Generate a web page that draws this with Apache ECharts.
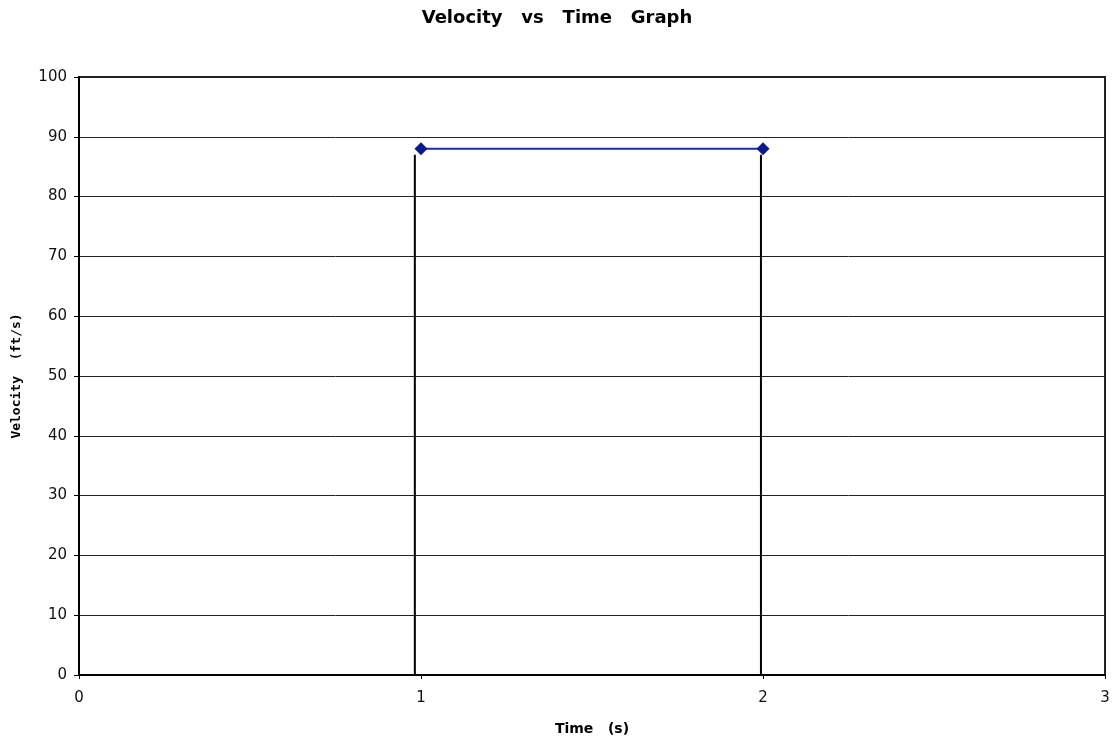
<!DOCTYPE html>
<html>
<head>
<meta charset="utf-8">
<script src="https://cdn.jsdelivr.net/npm/echarts@6/dist/echarts.min.js"></script>
<style>
  html, body { margin: 0; padding: 0; background: #fff; }
  #chart { width: 1114px; height: 744px; }
</style>
</head>
<body>
<div id="chart"></div>
<script>
// Velocity samples: time (s) and velocity (ft/s)
const timeValues = [1, 2];
const velocityValues = [88, 88];

// Vertical guide segments drawn under the velocity points
const guideTimes = [0.982, 1.994];
const guideTop = 87;

// Axis ranges and tick steps
const xTicks = { min: 0, max: 3, step: 1 };
const yTicks = { min: 0, max: 100, step: 10 };

const velocityData = timeValues.map((t, i) => [t, velocityValues[i]]);

const guideSeries = guideTimes.map((t) => ({
  type: 'line',
  data: [[t, 0], [t, guideTop]],
  symbol: 'none',
  silent: true,
  z: 1,
  lineStyle: { color: '#000', width: 2 }
}));

const chart = echarts.init(document.getElementById('chart'));
chart.setOption({
  animation: false,
  backgroundColor: '#fff',
  title: {
    text: 'Velocity   vs   Time   Graph',
    left: 'center',
    top: 4,
    textStyle: { fontFamily: 'DejaVu Sans', fontSize: 18, fontWeight: 'bold', color: '#000' }
  },
  grid: {
    left: 79, right: 9, top: 77, bottom: 69,
    show: true, borderColor: '#222', borderWidth: 2, backgroundColor: '#fff'
  },
  xAxis: {
    type: 'value',
    min: xTicks.min, max: xTicks.max, interval: xTicks.step,
    name: 'Time   (s)',
    nameLocation: 'middle',
    nameGap: 47,
    nameTextStyle: { fontFamily: 'DejaVu Sans', fontSize: 14, fontWeight: 'bold', color: '#000' },
    axisLine: { show: true, lineStyle: { color: '#000', width: 2 } },
    axisTick: { show: true, inside: false, length: 4, lineStyle: { color: '#000', width: 1 } },
    axisLabel: { margin: 16, fontFamily: 'DejaVu Sans', fontSize: 15, color: '#111' },
    splitLine: { show: false }
  },
  yAxis: {
    type: 'value',
    min: yTicks.min, max: yTicks.max, interval: yTicks.step,
    name: 'Velocity  (ft/s)',
    nameLocation: 'middle',
    nameRotate: 90,
    nameGap: 56,
    nameTextStyle: { fontFamily: 'DejaVu Sans Mono', fontSize: 13, fontWeight: 'bold', color: '#000' },
    axisLine: { show: true, lineStyle: { color: '#000', width: 2 } },
    axisTick: { show: true, inside: false, length: 5, lineStyle: { color: '#000', width: 1 } },
    axisLabel: { margin: 12, fontFamily: 'DejaVu Sans', fontSize: 15, color: '#111' },
    splitLine: { show: true, lineStyle: { color: '#222', width: 1 } }
  },
  series: [
    ...guideSeries,
    {
      type: 'line',
      data: velocityData,
      z: 3,
      symbol: 'diamond',
      symbolSize: 13,
      itemStyle: { color: '#0b1a8a' },
      lineStyle: { color: '#1a2ab5', width: 2 }
    }
  ]
});
</script>
</body>
</html>
